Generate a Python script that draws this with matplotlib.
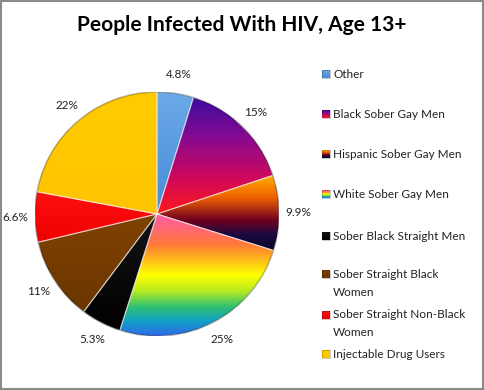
import matplotlib
matplotlib.use('Agg')
import matplotlib.pyplot as plt
import numpy as np
from matplotlib.colors import LinearSegmentedColormap
from matplotlib.patches import Rectangle

categories = ['Other', 'Black Sober Gay Men', 'Hispanic Sober Gay Men',
              'White Sober Gay Men', 'Sober Black Straight Men',
              'Sober Straight Black\nWomen', 'Sober Straight Non-Black\nWomen',
              'Injectable Drug Users']
shares = [4.8, 15, 9.9, 25, 5.3, 11, 6.6, 22]
pct_labels = ['4.8%', '15%', '9.9%', '25%', '5.3%', '11%', '6.6%', '22%']

# colour stops for each slice, top -> bottom
stops = [
    [(0, '#6aaae8'), (1, '#4a8ad8')],
    [(0, '#3a0ca0'), (0.35, '#880a90'), (0.7, '#d0085a'), (1, '#ff1818')],
    [(0, '#ffb000'), (0.3, '#f06000'), (0.6, '#700020'), (0.8, '#1a0a40'), (1, '#05082a')],
    [(0, '#ff5aa8'), (0.25, '#ff7a38'), (0.5, '#ffff00'), (0.63, '#b8ec20'),
     (0.76, '#30c070'), (0.88, '#10a0c8'), (1, '#3068e8')],
    [(0, '#151515'), (1, '#000000')],
    [(0, '#804200'), (1, '#6a3600')],
    [(0, '#ff1010'), (1, '#f00000')],
    [(0, '#ffcc00'), (1, '#ffc400')],
]
cmaps = [LinearSegmentedColormap.from_list('c%d' % i, s) for i, s in enumerate(stops)]

W, H = 484, 390
fig = plt.figure(figsize=(W / 100, H / 100), dpi=100)
fig.patch.set_facecolor('white')
fnt = 'Lato'

# pie axes: centre (157, 214) px, radius 122 px
cx, cy, R = 157, 214, 122
ax = fig.add_axes([(cx - R) / W, (H - cy - R) / H, 2 * R / W, 2 * R / H])
wedges, texts = ax.pie(shares, labels=pct_labels, startangle=90, counterclock=False,
                       labeldistance=1.16, colors=[c(0.5) for c in cmaps],
                       wedgeprops=dict(edgecolor=(1, 1, 1, 0.45), linewidth=0.8),
                       textprops=dict(fontsize=8.5, family=fnt, color='#222222'))
ax.set_xlim(-1, 1)
ax.set_ylim(-1, 1)
ax.set_aspect('equal')
ax.axis('off')
for t in texts:
    t.set_clip_on(False)
    t.set_horizontalalignment('center')

grad = np.linspace(0, 1, 256).reshape(-1, 1)
for w, cm in zip(wedges, cmaps):
    ext = w.get_path().get_extents()
    im = ax.imshow(grad, cmap=cm, extent=(ext.x0, ext.x1, ext.y0, ext.y1),
                   origin='upper', aspect='auto', zorder=w.get_zorder() + 0.1)
    im.set_clip_path(w)
# re-draw the thin light edges above the gradients
for w in wedges:
    ax.add_patch(plt.Polygon(w.get_path().vertices, closed=True, fill=False,
                             edgecolor=(1, 1, 1, 0.5), linewidth=0.8, zorder=5))
ax.add_patch(plt.Circle((0, 0), 1, fill=False, edgecolor=(0, 0, 0, 0.25), lw=1.2, zorder=6))

# overlay in pixel coordinates for title, legend and frame
ov = fig.add_axes([0, 0, 1, 1], facecolor='none')
ov.set_xlim(0, W)
ov.set_ylim(H, 0)
ov.axis('off')
ov.add_patch(Rectangle((1, 1), W - 2, H - 2, fill=False, edgecolor='#8a8a8a', lw=1.5))
ov.text(W / 2, 25, 'People Infected With HIV, Age 13+', ha='center', va='center',
        fontsize=15, fontweight='bold', family=fnt, color='black')

leg_y = [74, 114, 154, 194, 236, 274, 315, 354]
for name, cm, y in zip(categories, cmaps, leg_y):
    ov.imshow(grad, cmap=cm, extent=(322, 330, y + 4, y - 4), origin='upper', aspect='auto')
    ov.add_patch(Rectangle((322, y - 4), 8, 8, fill=False, edgecolor=(0, 0, 0, 0.3), lw=0.5))
    for k, line in enumerate(name.split('\n')):
        ov.text(333, y + k * 18, line, ha='left', va='center', fontsize=8.5,
                family=fnt, color='#222222')

fig.savefig('out.png', dpi=100)
